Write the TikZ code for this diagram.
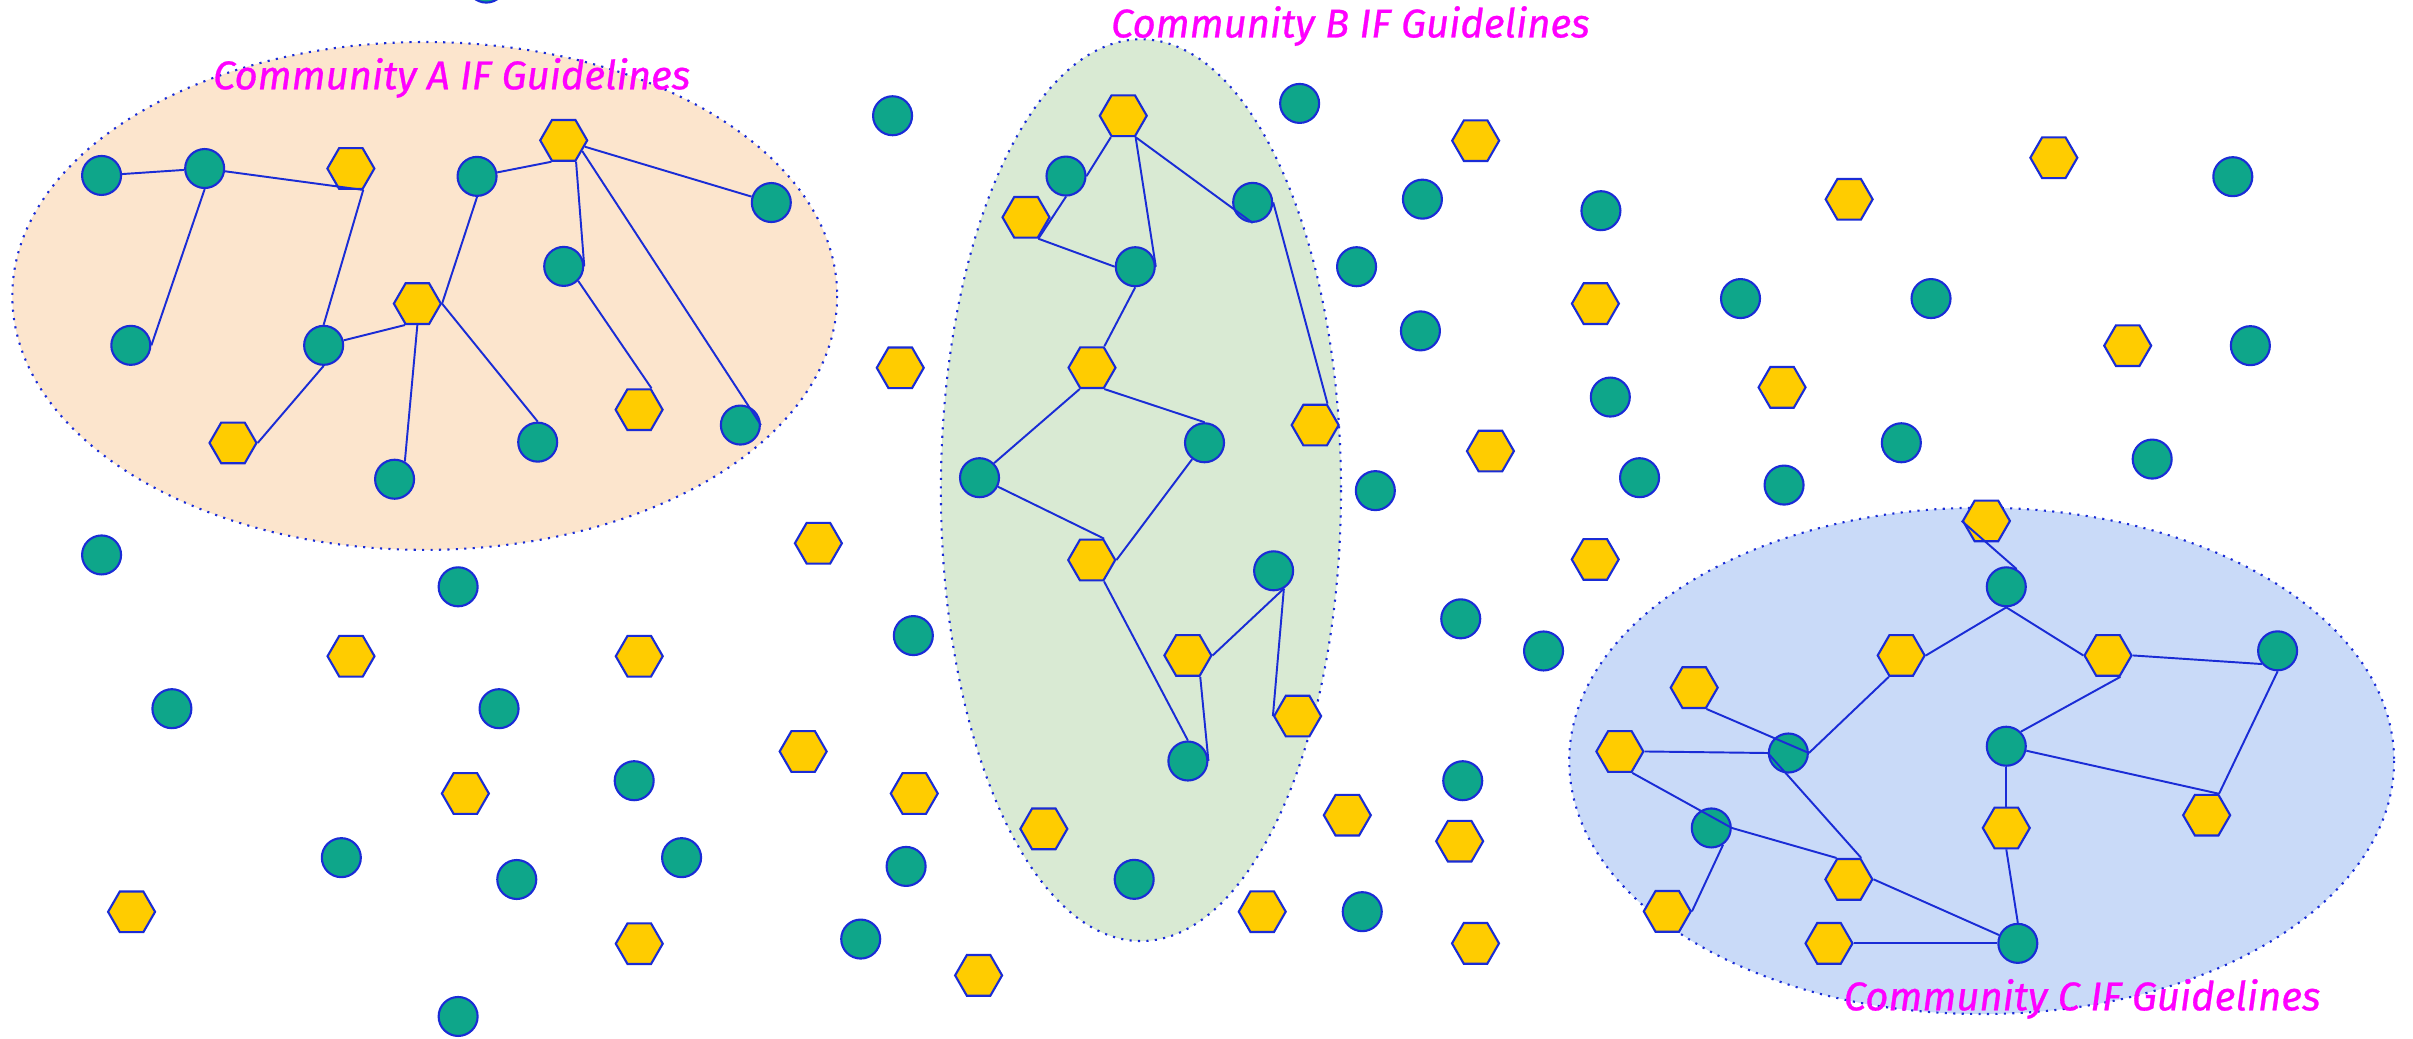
\documentclass[tikz,border=0pt]{standalone}
\usepackage{fontspec}
\usepackage{tikz}
\usetikzlibrary{shapes.geometric}
\newfontfamily\tagfont{Fira Sans}[ItalicFeatures={FakeBold=0.7}]
\definecolor{memgreen}{RGB}{14,166,138}
\definecolor{gdlyellow}{RGB}{255,204,0}
\definecolor{edgeblue}{RGB}{26,44,214}
\definecolor{tagpink}{RGB}{255,0,255}
\definecolor{fillA}{HTML}{FCE5CD}
\definecolor{fillB}{HTML}{D9EAD3}
\definecolor{fillC}{HTML}{C9DAF8}

\begin{document}
\begin{tikzpicture}[x=0.1539mm, y=-0.1539mm,
  mem/.style={circle, draw=edgeblue, fill=memgreen, line width=0.6pt, minimum size=3.9mm, inner sep=0pt},
  gdl/.style={regular polygon, regular polygon sides=6, draw=edgeblue, fill=gdlyellow, line width=0.6pt, minimum size=4.7mm, inner sep=0pt},
  lnk/.style={draw=edgeblue, line width=0.55pt},
  grp/.style={draw=edgeblue, line width=0.6pt, dash pattern=on 0.6pt off 1.8pt},
  tag/.style={anchor=base, text=tagpink, font=\tagfont\itshape\fontsize{11.4}{14}\selectfont}]
\useasboundingbox (0,0) rectangle (1568,675);
% community areas
\draw[grp, fill=fillA] (276,192.3) ellipse [x radius=268, y radius=165];
\draw[grp, fill=fillB] (741.4,318.5) ellipse [x radius=130, y radius=293];
\draw[grp, fill=fillC] (1287.7,494.4) ellipse [x radius=268, y radius=164.5];
\node[tag] (tagA) at (293.5,58) {Community A IF Guidelines};
\node[tag] (tagB) at (877.5,24.3) {Community B IF Guidelines};
\node[tag] (tagC) at (1353,656.5) {Community C IF Guidelines};

% community A
\node[mem] (a1) at (66,114) {}; \node[mem] (a2) at (133,109.5) {}; \node[gdl] (a3) at (228,109.5) {};
\node[mem] (a4) at (85,224.4) {}; \node[mem] (a5) at (310,114.6) {}; \node[gdl] (a6) at (366.3,91.2) {};
\node[mem] (a7) at (501.2,131.6) {}; \node[mem] (a8) at (366.3,173.1) {}; \node[gdl] (a9) at (271.2,197.3) {};
\node[mem] (a10) at (210.3,224.4) {}; \node[gdl] (a11) at (151.4,287.8) {}; \node[mem] (a12) at (256.4,311.4) {};
\node[mem] (a13) at (349.4,287.3) {}; \node[gdl] (a14) at (415.3,266.2) {}; \node[mem] (a15) at (481.1,276.2) {};

% community B
\node[gdl] (b1) at (729.9,75.2) {}; \node[mem] (b2) at (692.7,114.4) {}; \node[gdl] (b3) at (666.7,141.2) {};
\node[mem] (b4) at (814,131.5) {}; \node[mem] (b5) at (737.7,173.3) {}; \node[gdl] (b6) at (709.6,238.9) {};
\node[mem] (b7) at (782.7,287.7) {}; \node[mem] (b8) at (636.5,310.4) {}; \node[gdl] (b9) at (854.6,276.2) {};
\node[gdl] (b10) at (709.4,363.9) {}; \node[mem] (b11) at (827.6,370.9) {}; \node[gdl] (b12) at (771.9,425.9) {};
\node[gdl] (b13) at (843.2,465.3) {}; \node[mem] (b14) at (771.9,494.5) {};

% community C
\node[gdl] (c1) at (1290.8,338.5) {}; \node[mem] (c2) at (1303.7,381.3) {}; \node[gdl] (c3) at (1235.4,425.9) {};
\node[gdl] (c4) at (1369.8,425.9) {}; \node[mem] (c5) at (1480,422.9) {}; \node[gdl] (c6) at (1100.9,446.8) {};
\node[gdl] (c7) at (1052.6,488.3) {}; \node[mem] (c8) at (1162.1,489.3) {}; \node[mem] (c9) at (1303.7,484.9) {};
\node[mem] (c10) at (1112,538) {}; \node[gdl] (c11) at (1433.9,529.7) {}; \node[gdl] (c12) at (1303.7,538) {};
\node[gdl] (c13) at (1201.4,571.4) {}; \node[gdl] (c14) at (1083.4,592.2) {}; \node[gdl] (c15) at (1188.5,613) {};
\node[mem] (c16) at (1311.2,613) {};

% loose members and guidelines
\node[mem] (o1) at (316,-11) {}; \node[mem] (o2) at (66,360.6) {}; \node[mem] (o3) at (297.7,381.3) {};
\node[gdl] (o4) at (228.1,426.4) {}; \node[gdl] (o5) at (415.4,426.4) {}; \node[mem] (o6) at (111.7,460.5) {};
\node[mem] (o7) at (324.3,460.5) {}; \node[gdl] (o8) at (302.4,515.6) {}; \node[mem] (o9) at (412.1,507.3) {};
\node[mem] (o10) at (221.8,557.3) {}; \node[mem] (o11) at (335.8,571.5) {}; \node[mem] (o12) at (442.9,557.3) {};
\node[gdl] (o13) at (85.5,592.5) {}; \node[gdl] (o14) at (415.4,613.2) {}; \node[mem] (o15) at (297.7,660.5) {};
\node[gdl] (o16) at (531.8,353) {}; \node[gdl] (o17) at (521.9,488.3) {}; \node[mem] (o18) at (593.5,413) {};
\node[gdl] (o19) at (594.1,515.6) {}; \node[mem] (o20) at (588.8,563) {}; \node[mem] (o21) at (559.3,610.2) {};
\node[gdl] (o22) at (635.9,633.8) {}; \node[gdl] (o23) at (678.3,538.6) {}; \node[mem] (o24) at (737,571.4) {};
\node[mem] (o25) at (580,75.2) {}; \node[gdl] (o26) at (585,239) {}; \node[mem] (o27) at (844.5,67.2) {};
\node[gdl] (o28) at (958.9,91.4) {}; \node[mem] (o29) at (924.3,129.4) {}; \node[mem] (o30) at (1040.3,136.9) {};
\node[mem] (o31) at (881.5,173.3) {}; \node[mem] (o32) at (923,215) {}; \node[gdl] (o33) at (1036.7,197.3) {};
\node[mem] (o34) at (1131,194) {}; \node[gdl] (o35) at (1201.6,129.5) {}; \node[gdl] (o36) at (1334.6,102.5) {};
\node[mem] (o37) at (1450.9,114.8) {}; \node[mem] (o38) at (1254.8,194) {}; \node[gdl] (o39) at (1382.6,224.6) {};
\node[mem] (o40) at (1462.3,224.6) {}; \node[gdl] (o41) at (1158,251.7) {}; \node[mem] (o42) at (1046.4,258) {};
\node[gdl] (o43) at (968.5,293.1) {}; \node[mem] (o44) at (1065.4,310.4) {}; \node[mem] (o45) at (1159.3,315.2) {};
\node[mem] (o46) at (1235.5,287.7) {}; \node[mem] (o47) at (1398.5,298.3) {}; \node[mem] (o48) at (893.7,318.8) {};
\node[gdl] (o49) at (1036.6,363.5) {}; \node[mem] (o50) at (949.2,402.1) {}; \node[mem] (o51) at (1003,423) {};
\node[mem] (o52) at (950.5,507.3) {}; \node[gdl] (o53) at (875.5,529.7) {}; \node[gdl] (o54) at (948.5,546.6) {};
\node[gdl] (o55) at (820.2,592.4) {}; \node[mem] (o56) at (885.2,592.4) {}; \node[gdl] (o57) at (958.8,613) {};

% links in A
\draw[lnk] (a1)--(a2); \draw[lnk] (a2)--(a3.-60); \draw[lnk] (a2.south)--(a4.east);
\draw[lnk] (a3.-60)--(a10.north); \draw[lnk] (a10)--(a9.-120); \draw[lnk] (a10.south)--(a11.0);
\draw[lnk] (a9.south)--(a12.60); \draw[lnk] (a9.0)--(a13.north); \draw[lnk] (a5.south)--(a9.0);
\draw[lnk] (a5)--(a6.-120); \draw[lnk] (a6)--(a7); \draw[lnk] (a6.-60)--(a8.east);
\draw[lnk] (a8.-45)--(a14.60); \draw[lnk] (a6.-30)--(a15.east);
% links in B
\draw[lnk] (b1.-120)--(b2.east); \draw[lnk] (b2.south)--(b3.-60); \draw[lnk] (b3.-60)--(b5.west);
\draw[lnk] (b1.-60)--(b5.east); \draw[lnk] (b1.-60)--(b4.south); \draw[lnk] (b4.east)--(b9.60);
\draw[lnk] (b5.south)--(b6.60); \draw[lnk] (b6.-120)--(b8.45); \draw[lnk] (b6.-60)--(b7.north);
\draw[lnk] (b8)--(b10.60); \draw[lnk] (b7)--(b10.0); \draw[lnk] (b10.-60)--(b14.north);
\draw[lnk] (b11.-60)--(b12.0); \draw[lnk] (b11.-60)--(b13.180); \draw[lnk] (b12.-60)--(b14.east);
% links in C
\draw[lnk] (c1.180)--(c2.60); \draw[lnk] (c2.south)--(c3.0); \draw[lnk] (c2.south)--(c4.180);
\draw[lnk] (c4.0)--(c5.-140); \draw[lnk] (c4.-60)--(c9.45); \draw[lnk] (c5.south)--(c11.60);
\draw[lnk] (c9)--(c11.60); \draw[lnk] (c9.south)--(c12.north); \draw[lnk] (c12.south)--(c16.north);
\draw[lnk] (c3.-120)--(c8.0); \draw[lnk] (c6.-60)--(c8.0); \draw[lnk] (c7.0)--(c8.180);
\draw[lnk] (c7.-60)--(c10.0); \draw[lnk] (c8.180)--(c13.60); \draw[lnk] (c10.0)--(c13.120);
\draw[lnk] (c10.-55)--(c14.0); \draw[lnk] (c13.0)--(c16); \draw[lnk] (c15)--(c16.west);
\end{tikzpicture}
\end{document}
